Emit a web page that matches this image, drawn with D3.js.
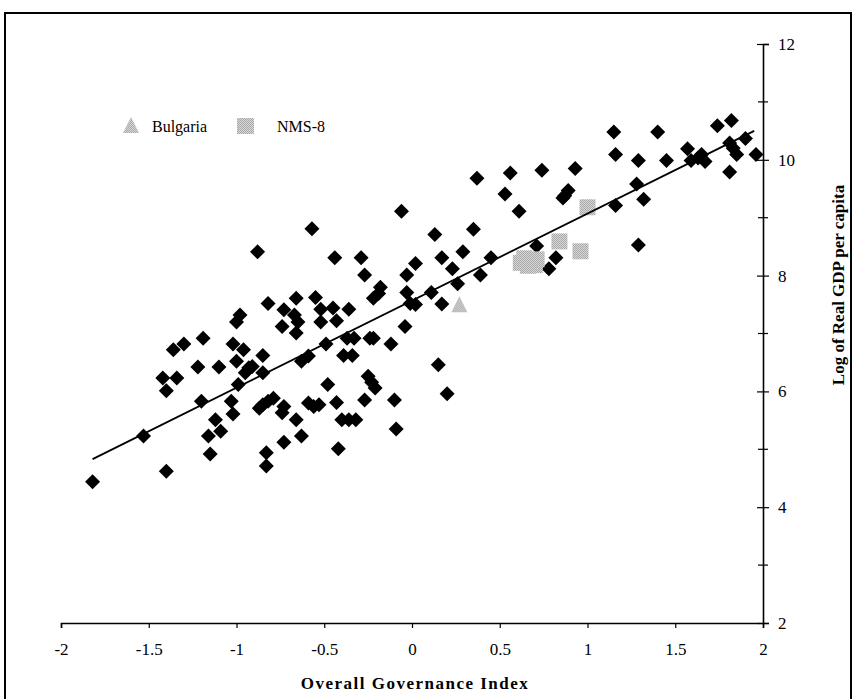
<!DOCTYPE html>
<html><head><meta charset="utf-8">
<script src="https://cdn.jsdelivr.net/npm/d3@7"></script>
<style>html,body{margin:0;padding:0;background:#fff;}svg{display:block;}</style>
</head><body>
<script>
// ---- data ----
const govIndex = [-1.82,-1.53,-1.40,-1.42,-1.34,-1.40,-1.36,-1.30,-1.22,-1.19,-1.20,-1.16,-1.15,-1.12,-1.09,-1.10,-1.02,-1.03,-1.02,-1.00,
 -0.99,-0.98,-1.00,-0.96,-0.93,-0.91,-0.95,-0.88,-0.85,-0.85,-0.82,-0.79,-0.82,-0.85,-0.87,-0.83,-0.83,-0.74,-0.73,-0.73,
 -0.74,-0.73,-0.67,-0.66,-0.65,-0.66,-0.66,-0.63,-0.63,-0.59,-0.59,-0.56,-0.53,-0.57,-0.55,-0.52,-0.52,-0.49,-0.48,-0.45,
 -0.44,-0.43,-0.43,-0.42,-0.40,-0.39,-0.37,-0.36,-0.36,-0.34,-0.33,-0.32,-0.29,-0.27,-0.24,-0.22,-0.18,-0.19,-0.22,-0.25,
 -0.23,-0.21,-0.27,-0.12,-0.10,-0.09,-0.06,-0.04,-0.03,-0.03,-0.01,0.02,0.02,0.11,0.13,0.17,0.17,0.23,0.26,0.29,
 0.15,0.20,0.35,0.37,0.39,0.45,0.53,0.56,0.61,0.71,0.74,0.78,0.82,0.86,0.89,0.87,0.93,1.15,1.16,1.16,
 1.28,1.29,1.32,1.29,1.40,1.45,1.57,1.59,1.65,1.67,1.63,1.74,1.82,1.81,1.83,1.85,1.90,1.96,1.81,0.71];
const logGdp = [4.44,5.23,4.62,6.23,6.23,6.01,6.72,6.82,6.42,6.92,5.83,5.23,4.92,5.51,5.31,6.42,6.82,5.83,5.61,6.52,
 6.12,7.32,7.20,6.72,6.41,6.43,6.32,8.41,6.62,6.32,7.52,5.88,5.83,5.77,5.71,4.94,4.71,7.12,7.41,5.74,
 5.63,5.12,7.32,7.61,7.20,7.01,5.51,5.23,6.52,6.61,5.80,5.74,5.77,8.81,7.62,7.42,7.20,6.82,6.12,7.44,
 8.31,7.22,5.81,5.01,5.51,6.62,6.92,7.42,5.51,6.62,6.92,5.51,8.31,8.01,6.92,6.92,7.80,7.69,7.61,6.26,
 6.16,6.06,5.85,6.82,5.85,5.35,9.11,7.12,8.01,7.71,7.52,7.50,8.21,7.71,8.71,8.31,7.51,8.12,7.86,8.41,
 6.46,5.96,8.80,9.68,8.01,8.31,9.41,9.77,9.11,8.51,9.82,8.12,8.31,9.34,9.47,9.38,9.85,10.48,10.09,9.21,
 9.58,9.99,9.32,8.53,10.48,9.99,10.19,9.99,10.09,9.97,10.03,10.59,10.68,10.29,10.20,10.09,10.37,10.09,9.79,8.26];

const bulgariaX = [0.27];
const bulgariaY = [7.49];

const nmsX = [1.00, 0.84, 0.96, 0.64, 0.71, 0.66, 0.70, 0.62];
const nmsY = [9.18, 8.59, 8.42, 8.30, 8.28, 8.17, 8.18, 8.22];

const trendX = [-1.82, 1.95];
const trendY = [4.83, 10.50];

const xTicks = [-2, -1.5, -1, -0.5, 0, 0.5, 1, 1.5, 2];
const yTicks = [2, 4, 6, 8, 10, 12];
const yMinorTicks = [3, 5, 7, 9, 11];

const legendLabels = ["Bulgaria", "NMS-8"];
const xTitle = "Overall Governance Index";
const yTitle = "Log of Real GDP per capita";

// ---- drawing ----
const W = 855, H = 699;
const svg = d3.select("body").append("svg").attr("width", W).attr("height", H);
const font = "'Liberation Serif','Times New Roman',serif";

const x = d3.scaleLinear().domain([-2, 2]).range([61, 763]);
const y = d3.scaleLinear().domain([2, 12]).range([623, 44]);

// halftone-like grey pattern
const defs = svg.append("defs");
const pat = defs.append("pattern").attr("id", "ht").attr("width", 2).attr("height", 2)
  .attr("patternUnits", "userSpaceOnUse");
pat.append("rect").attr("width", 2).attr("height", 2).attr("fill", "#d8d8d8");
pat.append("rect").attr("width", 1).attr("height", 1).attr("fill", "#a8a8a8");
pat.append("rect").attr("x", 1).attr("y", 1).attr("width", 1).attr("height", 1).attr("fill", "#a8a8a8");

// frame
svg.append("rect").attr("x", 5).attr("y", 13).attr("width", 846).attr("height", 720)
  .attr("fill", "none").attr("stroke", "#000").attr("stroke-width", 2);

// x axis
const xAxis = d3.axisBottom(x).tickValues(xTicks).tickSize(5).tickPadding(15)
  .tickFormat(d => String(d));
const gx = svg.append("g").attr("transform", `translate(0,${y(2)})`).call(xAxis);
gx.select(".domain").attr("stroke-width", 1.6);
gx.selectAll(".tick line").attr("stroke-width", 1.2);
gx.selectAll("text").attr("font-family", font).attr("font-size", 17).attr("fill", "#000");

// y axis (right side at x=2)
const yAxis = d3.axisRight(y).tickValues(yTicks).tickSize(6).tickPadding(9)
  .tickFormat(d => String(d));
const gy = svg.append("g").attr("transform", `translate(${x(2)},0)`).call(yAxis);
gy.select(".domain").attr("stroke-width", 1.6);
gy.selectAll(".tick line").attr("x1", -6).attr("stroke-width", 1.2);
gy.selectAll("text").attr("font-family", font).attr("font-size", 17).attr("fill", "#000");
gy.selectAll(".minor").data(yMinorTicks).enter().append("line")
  .attr("class", "minor").attr("x1", -5).attr("x2", 5)
  .attr("y1", d => y(d)).attr("y2", d => y(d)).attr("stroke", "#000").attr("stroke-width", 1.2);

// axis titles
svg.append("text").attr("x", 415).attr("y", 689).attr("text-anchor", "middle")
  .attr("font-family", font).attr("font-size", 17).attr("font-weight", "bold")
  .attr("letter-spacing", 1.5).text(xTitle);
svg.append("text").attr("transform", `translate(844,${285}) rotate(-90)`).attr("text-anchor", "middle")
  .attr("font-family", font).attr("font-size", 17).attr("font-weight", "bold").text(yTitle);

// diamonds
const diamond = "M0,-7.5L7.5,0L0,7.5L-7.5,0Z";
const pts = govIndex.map((gv, i) => ({gv, lg: logGdp[i]}));
svg.append("g").selectAll("path").data(pts).enter().append("path")
  .attr("d", diamond).attr("fill", "#000")
  .attr("transform", d => `translate(${x(d.gv)},${y(d.lg)})`);

// NMS-8 squares
const nms = nmsX.map((v, i) => ({gv: v, lg: nmsY[i]}));
svg.append("g").selectAll("rect").data(nms).enter().append("rect")
  .attr("x", d => x(d.gv) - 8).attr("y", d => y(d.lg) - 8).attr("width", 16).attr("height", 16)
  .attr("fill", "url(#ht)");

// regression line
const line = d3.line().x(d => x(d[0])).y(d => y(d[1]));
svg.append("path").datum(trendX.map((v, i) => [v, trendY[i]])).attr("d", line)
  .attr("fill", "none").attr("stroke", "#000").attr("stroke-width", 1.8);

// Bulgaria triangle
const tri = "M0,-9L8,7L-8,7Z";
svg.append("g").selectAll("path").data(bulgariaX.map((v, i) => ({gv: v, lg: bulgariaY[i]}))).enter()
  .append("path").attr("d", tri).attr("fill", "url(#ht)")
  .attr("transform", d => `translate(${x(d.gv)},${y(d.lg)})`);

// legend
const lg = svg.append("g");
lg.append("path").attr("d", tri).attr("fill", "url(#ht)").attr("transform", "translate(131,126)");
lg.append("text").attr("x", 152).attr("y", 132).attr("font-family", font).attr("font-size", 16).text(legendLabels[0]);
lg.append("rect").attr("x", 237).attr("y", 118).attr("width", 17).attr("height", 16).attr("fill", "url(#ht)");
lg.append("text").attr("x", 277).attr("y", 132).attr("font-family", font).attr("font-size", 16).text(legendLabels[1]);
</script>
</body></html>
